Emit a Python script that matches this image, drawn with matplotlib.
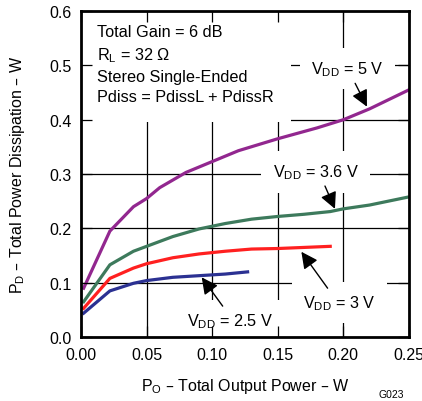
import matplotlib
matplotlib.use("Agg")
import matplotlib.pyplot as plt

plt.rcParams['font.family'] = ['Liberation Sans', 'DejaVu Sans']
plt.rcParams['font.size'] = 11

# output power (W) and dissipation (W) for each supply voltage
po_5v = [0.002, 0.022, 0.04, 0.05, 0.06, 0.08, 0.10, 0.12, 0.15, 0.18, 0.20, 0.22, 0.25]
pd_5v = [0.090, 0.195, 0.240, 0.255, 0.275, 0.303, 0.323, 0.343, 0.365, 0.385, 0.400, 0.420, 0.455]

po_36v = [0.002, 0.022, 0.04, 0.05, 0.07, 0.09, 0.11, 0.13, 0.15, 0.17, 0.19, 0.20, 0.22, 0.25]
pd_36v = [0.065, 0.133, 0.158, 0.167, 0.185, 0.199, 0.209, 0.217, 0.222, 0.226, 0.231, 0.236, 0.243, 0.258]

po_3v = [0.002, 0.022, 0.04, 0.05, 0.07, 0.09, 0.11, 0.13, 0.15, 0.17, 0.19]
pd_3v = [0.053, 0.108, 0.127, 0.135, 0.146, 0.153, 0.158, 0.162, 0.163, 0.165, 0.167]

po_25v = [0.002, 0.022, 0.04, 0.05, 0.07, 0.09, 0.11, 0.127]
pd_25v = [0.044, 0.085, 0.099, 0.104, 0.110, 0.113, 0.116, 0.120]

x_ticks = [0.00, 0.05, 0.10, 0.15, 0.20, 0.25]
y_ticks = [0.0, 0.1, 0.2, 0.3, 0.4, 0.5, 0.6]

fig = plt.figure(figsize=(4.22, 4.02), dpi=100)
ax = fig.add_axes([0.192, 0.159, 0.777, 0.811])

# grid drawn by hand so the inward ticks can sit above the white label boxes
for xv in x_ticks[1:-1]:
    ax.axvline(xv, color='black', lw=0.9, zorder=0.5)
for yv in y_ticks[1:-1]:
    ax.axhline(yv, color='black', lw=0.9, zorder=0.5)
ax.set_axisbelow(False)

ax.plot(po_5v, pd_5v, color='#92278F', lw=2.3, zorder=2.2)
ax.plot(po_36v, pd_36v, color='#3D7A5C', lw=2.3, zorder=2.2)
ax.plot(po_3v, pd_3v, color='#FF2020', lw=2.3, zorder=2.2)
ax.plot(po_25v, pd_25v, color='#2B3192', lw=2.3, zorder=2.2)

ax.set_xlim(0, 0.25)
ax.set_ylim(0, 0.6)
ax.set_xticks(x_ticks)
ax.set_yticks(y_ticks)
ax.set_xticklabels(['%.2f' % v for v in x_ticks])
ax.set_yticklabels(['%.1f' % v for v in y_ticks])
ax.tick_params(direction='in', length=8, width=0.9, top=True, right=True, pad=7,
               labelsize=11.5)
for s in ax.spines.values():
    s.set_linewidth(2.0)

ax.set_xlabel(r'$\mathregular{P_O}$ – Total Output Power – W', labelpad=10, fontsize=11.5)
ax.set_ylabel(r'$\mathregular{P_D}$ – Total Power Dissipation – W', labelpad=16, fontsize=11.5)

box = dict(boxstyle='square,pad=0.7', fc='white', ec='none')
ax.text(0.012, 0.576,
        'Total Gain = 6 dB\n$\\mathregular{R_L}$ = 32 Ω\nStereo Single-Ended\nPdiss = PdissL + PdissR',
        ha='left', va='top', linespacing=1.42, zorder=2, fontsize=11.7,
        bbox=dict(boxstyle='square,pad=1.1', fc='white', ec='none'))

arrow = dict(arrowstyle='-|>', mutation_scale=25, lw=1.0, color='black',
             shrinkA=0, shrinkB=0)
labels = [
    (r'$\mathregular{V_{DD}}$ = 5 V', (0.218, 0.424), (0.203, 0.494), (0.209, 0.467)),
    (r'$\mathregular{V_{DD}}$ = 3.6 V', (0.1936, 0.236), (0.179, 0.304), (0.186, 0.278)),
    (r'$\mathregular{V_{DD}}$ = 3 V', (0.168, 0.157), (0.197, 0.064), (0.188, 0.090)),
    (r'$\mathregular{V_{DD}}$ = 2.5 V', (0.092, 0.110), (0.114, 0.031), (0.108, 0.057)),
]
for txt, tip, pos, tail in labels:
    ax.text(pos[0], pos[1], txt, ha='center', va='center', zorder=2, bbox=box,
            fontsize=11.7)
    ax.annotate('', xy=tip, xytext=tail, arrowprops=arrow, zorder=3)

fig.text(0.957, 0.005, 'G023', ha='right', va='bottom', fontsize=7.5)

fig.savefig('out.png', dpi=100)
